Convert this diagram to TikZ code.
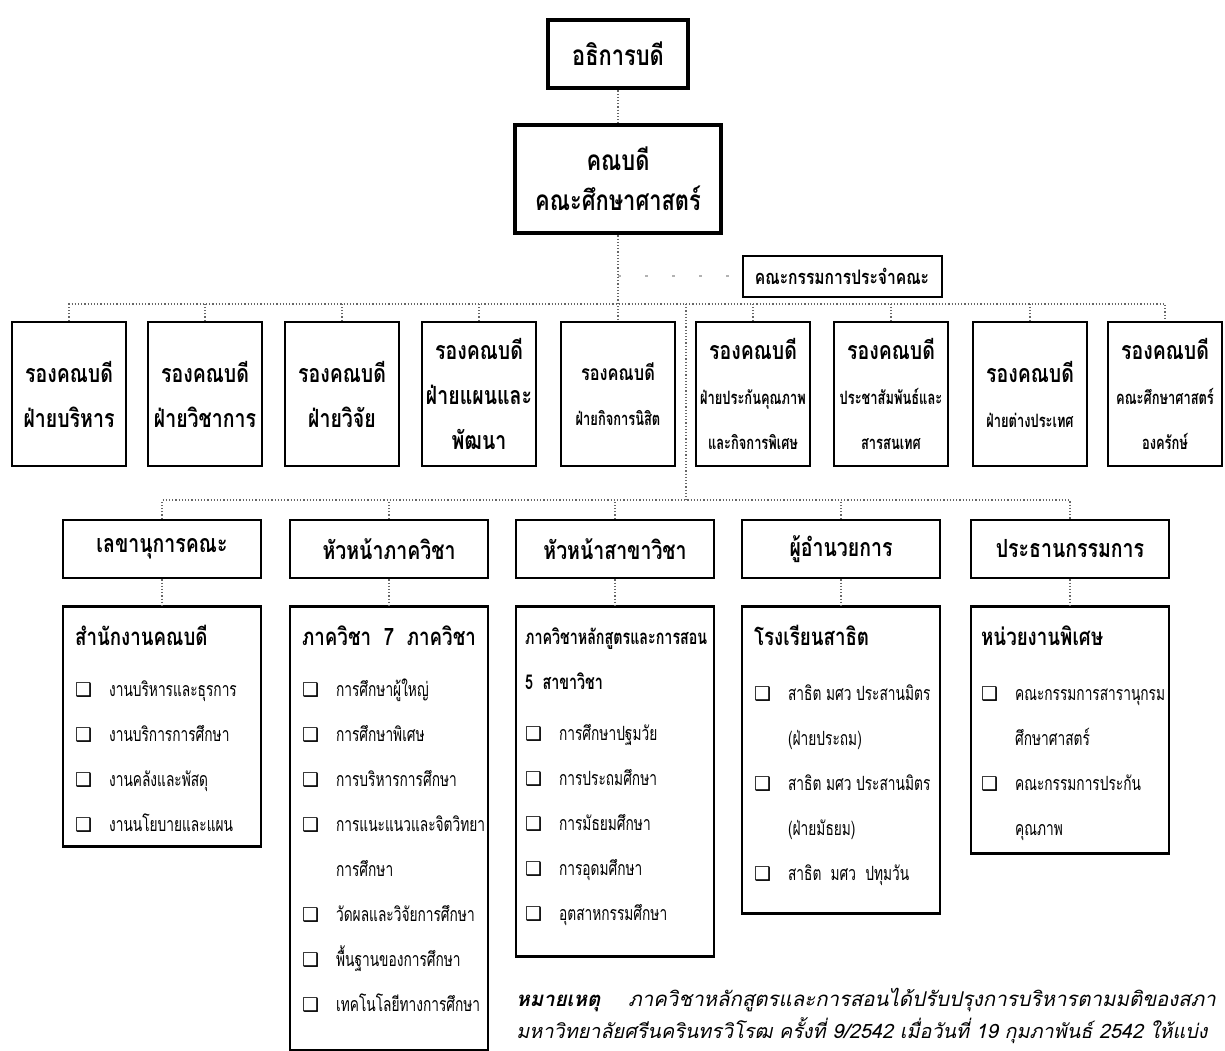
\documentclass[tikz,border=0pt]{standalone}
\usepackage{fontspec}
\newfontfamily\thai[Script=Thai]{Loma}
\newfontfamily\thaicond[Script=Thai, FakeStretch=0.78]{Loma}
\newfontfamily\thainarrow[Script=Thai, FakeStretch=0.7]{Loma}
\newfontfamily\symfont{DejaVu Sans}
\newcommand\chk{\makebox[17pt][l]{\symfont\fontsize{9.5}{9.5}\selectfont ❑}}
\newcommand\cont{\hspace*{17pt}}
\newcommand\uhead[1]{{\thaicond\bfseries\fontsize{12}{22.5}\selectfont #1}}
\newcommand\dmid[1]{{\fontsize{10.5}{22.5}\selectfont #1}}
\newcommand\dsub[1]{{\thainarrow\bfseries\fontsize{9.2}{22.5}\selectfont #1}}
\begin{document}
\begin{tikzpicture}[x=0.5pt, y=-0.5pt,
    topbox/.style={draw, line width=2.4pt, align=center, inner sep=0pt,
      font=\thaicond\bfseries\fontsize{14}{20}\selectfont},
    deputy/.style={draw, line width=1.3pt, minimum width=57pt, minimum height=72pt,
      align=center, inner sep=0pt, font=\thaicond\bfseries\fontsize{12.5}{22.5}\selectfont},
    post/.style={draw, line width=1.3pt, minimum width=99pt, minimum height=29pt,
      inner sep=0pt, font=\thaicond\bfseries\fontsize{12.5}{15}\selectfont},
    unit/.style={draw, line width=1.3pt, minimum width=99pt, anchor=north, inner sep=0pt},
    unitlist/.style={anchor=north west, align=left, inner sep=0pt,
      font=\thainarrow\fontsize{9.8}{22.5}\selectfont},
    link/.style={draw=black!60, densely dotted, line width=0.6pt}]

  \useasboundingbox (0,0) rectangle (1225,1050);
  \clip (0,0) rectangle (1225,1050);

  % top of the chart
  \node[topbox, minimum width=70pt, minimum height=34pt] (rector) at (618,54) {อธิการบดี};
  \node[topbox, minimum width=103pt, minimum height=54pt] (dean) at (618,179) {คณบดี\\คณะศึกษาศาสตร์};
  \node[draw, line width=1pt, minimum width=99.5pt, minimum height=20.5pt, inner sep=0pt,
    font=\thaicond\bfseries\fontsize{10}{12}\selectfont] (board) at (842,276) {คณะกรรมการประจำคณะ};

  % deputy deans
  \foreach \i/\x/\txt in {1/69/{รองคณบดี\\ฝ่ายบริหาร}, 2/205/{รองคณบดี\\ฝ่ายวิชาการ},
      3/342/{รองคณบดี\\ฝ่ายวิจัย}, 4/479/{รองคณบดี\\ฝ่ายแผนและ\\พัฒนา},
      5/618/{\dmid{รองคณบดี}\\\dsub{ฝ่ายกิจการนิสิต}},
      6/753/{รองคณบดี\\\dsub{ฝ่ายประกันคุณภาพ}\\\dsub{และกิจการพิเศษ}},
      7/891/{รองคณบดี\\\dsub{ประชาสัมพันธ์และ}\\\dsub{สารสนเทศ}},
      8/1030/{รองคณบดี\\\dsub{ฝ่ายต่างประเทศ}},
      9/1165/{รองคณบดี\\\dsub{คณะศึกษาศาสตร์}\\\dsub{องครักษ์}}}
    \node[deputy] (dep\i) at (\x,394) {\txt};

  \draw[link] (rector) -- (dean);
  \draw[link] (dean) -- (dep5);
  \coordinate (bus) at (0,304);
  \draw[link] (dep1.north) -- (dep1.north |- bus) -- (dep9.north |- bus) -- (dep9.north);
  \foreach \i in {2,3,4,6,7,8}
    \draw[link] (dep\i.north) -- (dep\i.north |- bus);
  \draw[link, draw=black!30, dash pattern=on 1.5pt off 12pt] (dean.south |- board.west) -- (board.west);

  % second level
  \foreach \i/\x/\txt in {1/162/เลขานุการคณะ, 2/389/หัวหน้าภาควิชา, 3/615/หัวหน้าสาขาวิชา,
      4/841/ผู้อำนวยการ, 5/1070/ประธานกรรมการ}
    \node[post] (post\i) at (\x,549) {\txt};
  \coordinate (drop) at (686,304);
  \coordinate (lowbus) at (0,500);
  \draw[link] (drop) -- (drop |- lowbus);
  \draw[link] (post1.north) -- (post1.north |- lowbus) -- (post5.north |- lowbus) -- (post5.north);
  \foreach \i in {2,3,4}
    \draw[link] (post\i.north) -- (post\i.north |- lowbus);

  % units
  \coordinate (unitrow) at (0,605);
  \foreach \i/\h in {1/120, 2/222, 3/175, 4/153.5, 5/123.5} {
    \node[unit, minimum height=\h pt] (unit\i) at (post\i |- unitrow) {};
    \draw[link] (post\i) -- (unit\i);
  }

  \node[unitlist] (list1) at ([shift={(13,20)}]unit1.north west) {\uhead{สำนักงานคณบดี}\\[3pt]
    \chk งานบริหารและธุรการ\\ \chk งานบริการการศึกษา\\ \chk งานคลังและพัสดุ\\ \chk งานนโยบายและแผน};
  \node[unitlist] (list2) at ([shift={(13,20)}]unit2.north west) {\uhead{ภาควิชา\ \ 7\ \ ภาควิชา}\\[3pt]
    \chk การศึกษาผู้ใหญ่\\ \chk การศึกษาพิเศษ\\ \chk การบริหารการศึกษา\\ \chk การแนะแนวและจิตวิทยา\\
    \cont การศึกษา\\ \chk วัดผลและวิจัยการศึกษา\\ \chk พื้นฐานของการศึกษา\\ \chk เทคโนโลยีทางการศึกษา};
  \node[unitlist] (list3) at ([shift={(10,22)}]unit3.north west) {{\bfseries\fontsize{10.2}{22.5}\selectfont ภาควิชาหลักสูตรและการสอน}\\
    {\bfseries\fontsize{10.2}{22.5}\selectfont 5\ \ สาขาวิชา}\\[3pt]
    \chk การศึกษาปฐมวัย\\ \chk การประถมศึกษา\\ \chk การมัธยมศึกษา\\ \chk การอุดมศึกษา\\ \chk อุตสาหกรรมศึกษา};
  \node[unitlist] (list4) at ([shift={(13,20)}]unit4.north west) {\uhead{โรงเรียนสาธิต}\\[5pt]
    \chk สาธิต มศว ประสานมิตร\\ \cont(ฝ่ายประถม)\\ \chk สาธิต มศว ประสานมิตร\\ \cont(ฝ่ายมัธยม)\\
    \chk สาธิต\ \ มศว\ \ ปทุมวัน};
  \node[unitlist] (list5) at ([shift={(11,20)}]unit5.north west) {\uhead{หน่วยงานพิเศษ}\\[5pt]
    \chk คณะกรรมการสารานุกรม\\ \cont ศึกษาศาสตร์\\ \chk คณะกรรมการประกัน\\ \cont คุณภาพ};

  % note
  \node[anchor=north west, align=left, inner sep=0pt, font=\thai\itshape\fontsize{10.2}{16}\selectfont] (note) at (516,988)
    {\textbf{หมายเหตุ}\hspace{14pt}ภาควิชาหลักสูตรและการสอนได้ปรับปรุงการบริหารตามมติของสภา\\
     {\fontsize{9.9}{16}\selectfont มหาวิทยาลัยศรีนครินทรวิโรฒ ครั้งที่ 9/2542 เมื่อวันที่ 19 กุมภาพันธ์ 2542 ให้แบ่ง}};
\end{tikzpicture}
\end{document}
